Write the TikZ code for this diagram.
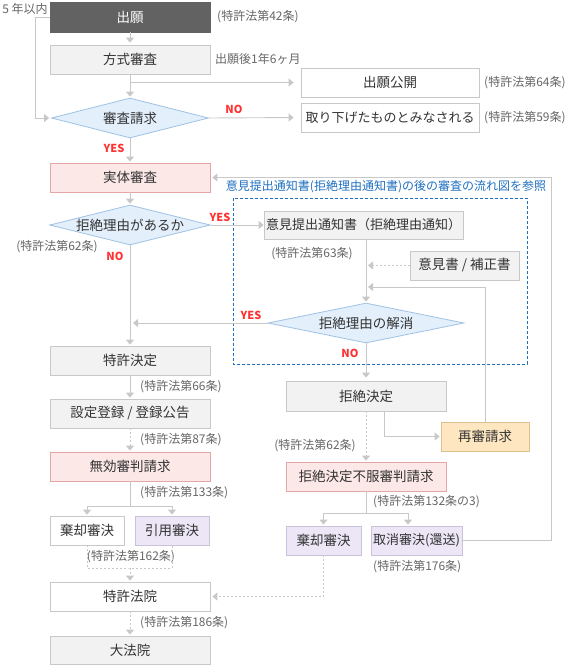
\documentclass[tikz,border=0pt]{standalone}
\usepackage{fontspec}
\setmainfont{Noto Sans CJK JP}
\usetikzlibrary{arrows.meta,shapes.geometric,calc}
\definecolor{ln}{HTML}{C8C8C8}
\definecolor{txt}{HTML}{333333}
\definecolor{lawc}{HTML}{666666}
\definecolor{gfill}{HTML}{F2F2F2}
\definecolor{dark}{HTML}{626262}
\definecolor{pfill}{HTML}{FDE8E8}
\definecolor{pline}{HTML}{E3A7A7}
\definecolor{vfill}{HTML}{ECE6F7}
\definecolor{vline}{HTML}{C9C2D9}
\definecolor{ofill}{HTML}{FDE6C0}
\definecolor{oline}{HTML}{DCC18F}
\definecolor{dfill}{HTML}{E3EFFB}
\definecolor{dline}{HTML}{9EC2E4}
\definecolor{blu}{HTML}{1F6FBF}
\definecolor{yn}{HTML}{FF3030}
\begin{document}
\begin{tikzpicture}[x=1pt,y=-1pt,
  base/.style={draw=ln, line width=0.8pt, inner sep=0pt, minimum height=29pt, text=txt, font=\fontsize{13.5}{15}\selectfont},
  gbox/.style={base, fill=gfill, minimum width=160pt},
  wbox/.style={base, fill=white},
  pbox/.style={base, fill=pfill, draw=pline},
  vbox/.style={base, fill=vfill, draw=vline},
  obox/.style={base, fill=ofill, draw=oline},
  dia/.style={diamond, draw=dline, fill=dfill, line width=0.8pt, inner sep=0pt, aspect=4, minimum width=157pt, minimum height=40pt, text=txt, font=\fontsize{13.5}{15}\selectfont},
  law/.style={text=lawc, font=\fontsize{12}{13}\selectfont, inner sep=0pt},
  ynlab/.style={text=yn, font=\bfseries\fontsize{11}{13}\selectfont, inner sep=0pt},
  conn/.style={draw=ln, line width=0.9pt},
  arr/.style={conn, -{Triangle[width=8pt,length=5pt]}},
  dconn/.style={conn, dash pattern=on 2pt off 2pt},
  darr/.style={arr, dash pattern=on 2pt off 2pt}]
\useasboundingbox (0,0) rectangle (571,665);

% left column
\node[base, fill=dark, draw=dark, text=white, minimum width=160pt, minimum height=30pt] (apply) at (130,17) {出願};
\node[gbox] (formal) at (130,59.5) {方式審査};
\node[wbox, minimum width=178pt] (pub) at (390,82.5) {出願公開};
\node[wbox, minimum width=178pt, font=\fontsize{13}{15}\selectfont] (wd) at (390,117.5) {取り下げたものとみなされる};
\node[dia, aspect=4.2] (req) at (130,118) {審査請求};
\node[pbox, minimum width=160pt] (exam) at (130,177.5) {実体審査};
\node[dia, aspect=4.2] (rsn) at (130,225) {拒絶理由があるか};
\node[gbox, minimum width=199pt, minimum height=28pt, font=\fontsize{13}{15}\selectfont] (notice) at (363.5,225) {意見提出通知書（拒絶理由通知）};
\node[gbox, minimum width=109pt] (opin) at (464.5,265.5) {意見書 / 補正書};
\node[dia, minimum width=196pt] (res) at (366,323) {拒絶理由の解消};
\node[gbox] (grant) at (130,360.5) {特許決定};
\node[gbox] (reg) at (130,413.5) {設定登録 / 登録公告};
\node[pbox, minimum width=160pt] (inv) at (130,466.5) {無効審判請求};
\node[wbox, minimum width=74pt] (rej1) at (87,530.5) {棄却審決};
\node[vbox, minimum width=74pt] (acc) at (172,530.5) {引用審決};
\node[wbox, minimum width=160pt] (ipc) at (130,596.5) {特許法院};
\node[gbox, minimum height=28pt] (sc) at (130,650) {大法院};
% right column
\node[gbox, minimum height=30pt] (refuse) at (366,396) {拒絶決定};
\node[obox, minimum width=88pt] (reexam) at (485,436.5) {再審請求};
\node[pbox, minimum width=160pt] (appeal) at (366,476.5) {拒絶決定不服審判請求};
\node[vbox, minimum width=75pt] (rej2) at (323.5,540.5) {棄却審決};
\node[vbox, minimum width=91pt, font=\fontsize{13}{15}\selectfont] (cancel) at (416.5,540.5) {取消審決(還送)};

% dashed frame
\draw[blu, line width=0.9pt, dash pattern=on 3pt off 2pt] (233,198) rectangle (527,364);
\node[text=blu, font=\fontsize{12}{14}\selectfont, inner sep=0pt] (ttl) at (386,187) {意見提出通知書(拒絶理由通知書)の後の審査の流れ図を参照};

% labels
\node[law] (t5) at (25,9) {5 年以内};
\node[law, anchor=west] (l42) at (217,17) {(特許法第42条)};
\node[law, anchor=west] (l18) at (215,59) {出願後1年6ヶ月};
\node[law, anchor=west] (l64) at (484,83) {(特許法第64条)};
\node[law, anchor=west] (l59) at (484,118) {(特許法第59条)};
\node[law] (l62a) at (57,247) {(特許法第62条)};
\node[law] (l63) at (312,254) {(特許法第63条)};
\node[law, anchor=west] (l66) at (140,387) {(特許法第66条)};
\node[law, anchor=west] (l87) at (140,440) {(特許法第87条)};
\node[law, anchor=west] (l133) at (140,493) {(特許法第133条)};
\node[law] (l162) at (131,557) {(特許法第162条)};
\node[law, anchor=west] (l186) at (140,623) {(特許法第186条)};
\node[law] (l62b) at (315,446) {(特許法第62条)};
\node[law, anchor=west] (l132) at (373,502) {(特許法第132条の3)};
\node[law, anchor=west] (l176) at (373,567) {(特許法第176条)};
\node[ynlab] (no1) at (234,109) {NO};
\node[ynlab] (yes1) at (114,148) {YES};
\node[ynlab] (yes2) at (220,217) {YES};
\node[ynlab] (no2) at (115,256) {NO};
\node[ynlab] (yes3) at (251,315) {YES};
\node[ynlab] (no3) at (350,353) {NO};

% connectors
\coordinate (lp1) at (35,17);
\coordinate (b1) at (130,82.5);
\coordinate (j1) at (366,265.5);
\coordinate (j2) at (366,287);
\coordinate (j3) at (130,323);
\coordinate (br1) at (130,506);
\coordinate (br2) at (130,568);
\coordinate (br3) at (366,513);

\draw[arr, shorten >=2pt] (apply) -- (formal);
\draw[arr, shorten >=1pt] (formal) -- (req);
\draw[arr, shorten >=7pt] (b1) -- (pub.west);
\draw[arr, shorten >=7pt] (req.east) -- (wd.west);
\draw[arr, shorten >=2pt] (apply.west) -- (lp1) |- (req.west);
\draw[arr, shorten >=1pt] (req) -- (exam);
\draw[arr, shorten >=1pt] (exam) -- (rsn);
\draw[arr] (rsn.east) -- (notice.west);
\draw[arr, shorten >=1pt] (rsn.south) -- (grant.north);
\draw[arr, shorten >=1pt] (notice.south -| res.north) -- (res.north);
\draw[darr, shorten >=2pt] (opin.west) -- (j1);
\draw[arr, shorten >=2pt] (reexam.north) |- (j2);
\draw[arr, shorten >=3pt] (res.west) -- (j3);
\draw[arr, shorten >=3pt] (res.south) -- (refuse.north);
\draw[arr, shorten >=1pt] (grant) -- (reg);
\draw[darr, shorten >=1pt] (reg) -- (inv);
\draw[conn] (inv.south) -- (br1);
\draw[arr, shorten >=1pt] (br1) -| (rej1.north);
\draw[arr, shorten >=1pt] (br1) -| (acc.north);
\draw[dconn] (rej1.south) |- (br2) -| (acc.south);
\draw[darr, shorten >=1pt] (br2) -- (ipc.north);
\draw[darr, shorten >=1pt] (ipc) -- (sc);
\draw[darr, shorten >=1pt] (refuse.south) -- (appeal.north);
\draw[arr, shorten >=1pt] ([xshift=18pt]refuse.south) |- (reexam.west);
\draw[conn] (appeal.south) -- (br3);
\draw[arr, shorten >=1pt] (br3) -| (rej2.north);
\draw[arr, shorten >=1pt] (br3) -| ([xshift=-8.5pt]cancel.north);
\draw[darr, shorten >=2pt] (rej2.south) |- (ipc.east);
\draw[arr, shorten >=2pt] (cancel.east) -- ++(89,0) |- (exam.east);
\end{tikzpicture}
\end{document}
